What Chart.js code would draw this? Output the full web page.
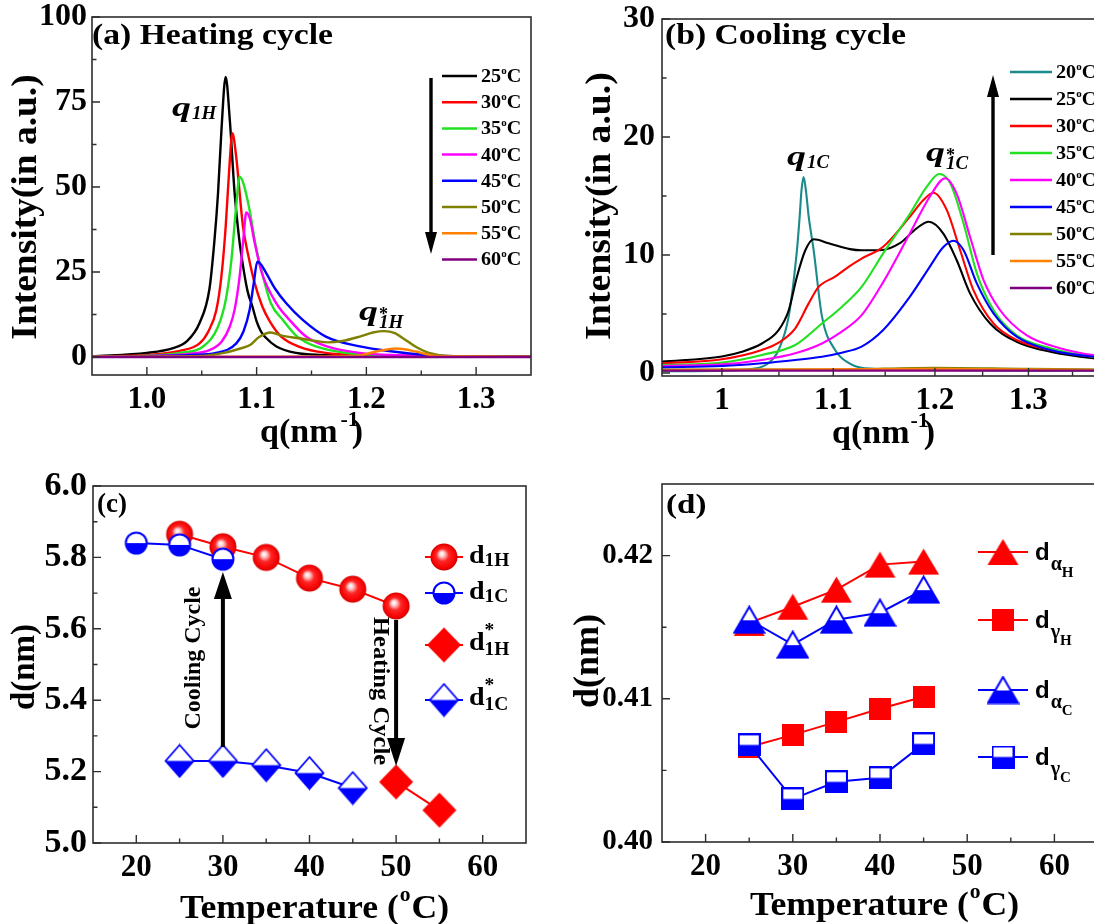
<!DOCTYPE html>
<html><head><meta charset="utf-8">
<script src="https://cdn.jsdelivr.net/npm/chart.js@4.4.1/dist/chart.umd.min.js"></script>
<style>
html,body{margin:0;padding:0;background:#fff;overflow:hidden}
body{width:1094px;height:924px;position:relative}
canvas{position:absolute}
</style></head><body>
<canvas id="ca" width="545" height="460" style="left:0;top:0;width:545px;height:460px"></canvas>
<canvas id="cb" width="570" height="460" style="left:545px;top:0;width:570px;height:460px"></canvas>
<canvas id="cc" width="545" height="464" style="left:0;top:460px;width:545px;height:464px"></canvas>
<canvas id="cd" width="570" height="464" style="left:545px;top:460px;width:570px;height:464px"></canvas>
<script>
// ---------------- DATA ----------------
// (a) Heating cycle: q (nm^-1) and intensity (a.u.) per temperature
const heatTemps = ['25','30','35','40','45','50','55','60'];
const h25Q = [0.95,1.00,1.024,1.036,1.048,1.057,1.0615,1.0648,1.068,1.0718,1.0755,1.080,1.084,1.088,1.092,1.096,1.100,1.104,1.108,1.118,1.136,1.16,1.20,1.25,1.35];
const h25I = [0.2,1.2,2.6,4.5,10,20,34,48,67,82.4,70,48,35,26,19,15,10.5,7.5,5.8,3.1,1.2,0.6,0.3,0.2,0.1];
const h30Q = [0.95,1.00,1.03,1.048,1.056,1.0633,1.068,1.0718,1.075,1.0779,1.081,1.0876,1.093,1.098,1.105,1.112,1.1224,1.139,1.163,1.20,1.25,1.35];
const h30I = [0.15,0.6,1.8,4,7.5,13.8,24,38.3,55,65.8,60,38.3,29,22,15,10.5,6,3,1.2,0.5,0.25,0.1];
const h35Q = [0.95,1.00,1.03,1.051,1.0648,1.072,1.077,1.081,1.0845,1.088,1.0936,1.099,1.104,1.113,1.1239,1.137,1.154,1.181,1.22,1.27,1.35];
const h35I = [0.1,0.4,1.2,3,8.9,17,28.5,43,53,51,43.2,33,26,15.8,10.9,6,3.1,1.2,0.5,0.2,0.1];
const h40Q = [0.95,1.00,1.04,1.057,1.068,1.0755,1.080,1.0845,1.088,1.0906,1.094,1.098,1.1045,1.118,1.130,1.145,1.164,1.194,1.23,1.27,1.35];
const h40I = [0.1,0.3,1.0,2,4.5,8.9,14,23.6,35,42.5,40.5,34,25,15.8,10.9,6,3.1,1.2,0.5,0.2,0.1];
const h45Q = [0.95,1.00,1.04,1.063,1.0815,1.088,1.0936,1.0975,1.1006,1.104,1.109,1.117,1.127,1.142,1.163,1.194,1.224,1.254,1.28,1.35];
const h45I = [0.05,0.2,0.6,1.2,4,7.5,13.8,22,28,27.2,24.5,20,15.8,10.9,6,3.1,1.6,0.6,0.2,0.1];
const h50Q = [0.95,1.00,1.05,1.07,1.085,1.094,1.102,1.1125,1.124,1.139,1.154,1.165,1.178,1.194,1.206,1.2164,1.226,1.233,1.245,1.257,1.275,1.35];
const h50I = [0.05,0.1,0.3,1.2,2.5,3.5,5.8,7.2,6.2,5.5,4.7,4.3,4.7,6,7.2,7.6,7.0,5.6,3,1.2,0.3,0.1];
const h55Q = [0.95,1.10,1.19,1.209,1.227,1.245,1.257,1.27,1.35];
const h55I = [0.1,0.1,0.3,1.6,2.5,1.6,0.6,0.2,0.1];
const h60Q = [0.95,1.10,1.25,1.35];
const h60I = [0,0,0,0];

// (b) Cooling cycle
const coolTemps = ['20','25','30','35','40','45','50','55','60'];
const c20Q = [0.95,1.00,1.03,1.0408,1.0497,1.0588,1.0663,1.0688,1.0705,1.0724,1.0745,1.0771,1.0817,1.0894,1.1017,1.1145,1.13,1.20,1.30,1.394];
const c20I = [0.15,0.2,0.4,0.85,1.95,4.8,10.4,13.25,15.5,16.6,15.5,13.25,10.4,4.8,1.95,0.85,0.4,0.25,0.2,0.2];
const c25Q = [0.95,1.00,1.0173,1.0348,1.0497,1.0588,1.0663,1.074,1.0817,1.0956,1.1158,1.127,1.1449,1.1646,1.1813,1.1937,1.2085,1.2225,1.2366,1.258,1.287,1.3245,1.374,1.394];
const c25I = [0.96,1.4,1.8,2.5,3.64,5.3,8.16,10.4,11.33,11.0,10.5,10.4,10.4,11.0,12.26,12.82,11.84,9.58,6.75,4.2,2.65,1.8,1.25,1.15];
const c30Q = [0.95,1.00,1.0348,1.0497,1.0648,1.0771,1.0863,1.1017,1.1145,1.127,1.148,1.1746,1.1882,1.1984,1.2123,1.2262,1.2403,1.2617,1.287,1.3245,1.374,1.394];
const c30I = [0.82,1.16,1.95,2.57,3.79,5.9,7.3,8.16,9.0,9.7,10.7,13.25,14.66,15.28,13.8,10.4,7.0,4.2,2.8,1.95,1.38,1.25];
const c35Q = [0.95,1.00,1.0348,1.0648,1.0894,1.108,1.127,1.148,1.1746,1.1917,1.2044,1.2157,1.2297,1.2438,1.2617,1.287,1.3245,1.374,1.394];
const c35I = [0.68,0.88,1.53,2.37,4.2,5.6,7.3,10.14,13.5,15.8,16.86,16.1,12.7,8.45,5.34,3.2,2.1,1.38,1.3];
const c40Q = [0.95,1.00,1.0348,1.0648,1.0894,1.108,1.127,1.148,1.1746,1.1947,1.2106,1.2225,1.2366,1.2509,1.2687,1.2978,1.3356,1.374,1.394];
const c40I = [0.59,0.73,1.1,1.67,2.5,3.5,4.9,7.7,11.84,14.94,16.5,15.2,11.55,7.9,5.34,3.2,2.1,1.53,1.45];
const c45Q = [0.95,1.00,1.0348,1.0648,1.0894,1.108,1.127,1.148,1.1746,1.1947,1.2085,1.219,1.2297,1.2438,1.2617,1.287,1.3245,1.374,1.394];
const c45I = [0.48,0.59,0.82,1.1,1.38,1.72,2.23,3.64,6.47,9.0,10.65,11.21,10.42,7.6,5.06,3.08,1.95,1.38,1.3];
const c50Q = [0.95,1.10,1.20,1.30,1.394];
const c50I = [0.3,0.3,0.45,0.35,0.3];
const c55Q = [0.95,1.20,1.394];
const c55I = [0.25,0.35,0.25];
const c60Q = [0.95,1.394];
const c60I = [0.2,0.2];

// (c) d-spacing (nm) vs temperature
const d1H_T = [25,30,35,40,45,50];
const d1H   = [5.865,5.83,5.80,5.742,5.711,5.664];
const d1C_T = [20,25,30];
const d1C   = [5.84,5.835,5.795];
const d1Hs_T = [50,55];
const d1Hs   = [5.171,5.092];
const d1Cs_T = [25,30,35,40,45];
const d1Cs   = [5.23,5.23,5.218,5.196,5.154];

// (d) d-spacing (nm) vs temperature
const tempD   = [25,30,35,40,45];
const dAlphaH = [0.4153,0.41643,0.41762,0.41937,0.41958];
const dGammaH = [0.40664,0.40748,0.40839,0.4093,0.41014];
const dAlphaC = [0.41552,0.41378,0.41552,0.41601,0.41762];
const dGammaC = [0.40678,0.40301,0.4042,0.40448,0.40685];

// tick values
const ticksAx=[1.0,1.1,1.2,1.3], minorAx=[1.05,1.15,1.25];
const ticksAy=[0,25,50,75,100], minorAy=[12.5,37.5,62.5,87.5];
const ticksBx=[1,1.1,1.2,1.3], minorBx=[1.05,1.15,1.25,1.35];
const ticksBy=[0,10,20,30], minorBy=[5,15,25];
const ticksCx=[20,30,40,50,60], minorCx=[25,35,45,55];
const ticksCy=[5.0,5.2,5.4,5.6,5.8,6.0], minorCy=[5.1,5.3,5.5,5.7,5.9];
const ticksDx=[20,30,40,50,60], minorDx=[25,35,45,55,65];
const ticksDy=[0.40,0.41,0.42], minorDy=[0.405,0.415];

// ---------------- STYLE / HELPERS ----------------
const SERIF='"Liberation Serif","Times New Roman",serif';
const SANS='"Liberation Sans",Arial,sans-serif';
const RED='#ff0000', BLUE='#0000ff';
const heatColors=['#000000','#ff0000','#22e022','#ff00ff','#0000ff','#808000','#ff8000','#800080'];
const coolColors=['#1a8a8a','#000000','#ff0000','#22e022','#ff00ff','#0000ff','#808000','#ff8000','#800080'];
const heatQ=[h25Q,h30Q,h35Q,h40Q,h45Q,h50Q,h55Q,h60Q], heatI=[h25I,h30I,h35I,h40I,h45I,h50I,h55I,h60I];
const coolQ=[c20Q,c25Q,c30Q,c35Q,c40Q,c45Q,c50Q,c55Q,c60Q], coolI=[c20I,c25I,c30I,c35I,c40I,c45I,c50I,c55I,c60I];

function fnt(p){return (p.st||'bold')+' '+p.sz+'px '+(p.fam||SERIF);}
function rich(ctx,x,y,parts,o){
  o=o||{};
  ctx.save();ctx.translate(x,y);if(o.rot)ctx.rotate(o.rot);
  const gsx=o.sx||1;let cx=0,prev=0;const pos=[];
  parts.forEach(p=>{ctx.font=fnt(p);const w=ctx.measureText(p.t).width*(p.sx||gsx);const s=p.stack?prev:cx+(p.dx||0);pos.push(s);prev=s;cx=Math.max(cx,s+w);});
  const off=o.align==='center'?-cx/2:(o.align==='right'?-cx:0);
  ctx.fillStyle=o.color||'#000';ctx.textBaseline='alphabetic';ctx.textAlign='left';
  parts.forEach((p,i)=>{ctx.save();ctx.font=fnt(p);ctx.translate(off+pos[i],p.dy||0);ctx.scale(p.sx||gsx,1);ctx.fillText(p.t,0,0);ctx.restore();});
  ctx.restore();
}
function arrow(ctx,x,y0,y1,lw,hw,hl){
  const d=Math.sign(y1-y0);
  ctx.save();ctx.strokeStyle='#000';ctx.fillStyle='#000';ctx.lineWidth=lw;
  ctx.beginPath();ctx.moveTo(x,y0);ctx.lineTo(x,y1-d*hl+d);ctx.stroke();
  ctx.beginPath();ctx.moveTo(x,y1);ctx.lineTo(x-hw/2,y1-d*hl);ctx.lineTo(x+hw/2,y1-d*hl);ctx.closePath();ctx.fill();
  ctx.restore();
}
function hline(ctx,x0,x1,y,c,lw){ctx.save();ctx.strokeStyle=c;ctx.lineWidth=lw;ctx.beginPath();ctx.moveTo(x0,y);ctx.lineTo(x1,y);ctx.stroke();ctx.restore();}
function frameTicks(chart,xM,xm,yM,ym){
  const ctx=chart.ctx,a=chart.chartArea,sx=chart.scales.x,sy=chart.scales.y;
  ctx.save();ctx.strokeStyle='#2e2e2e';ctx.lineWidth=1.6;
  ctx.strokeRect(a.left,a.top,a.right-a.left,a.bottom-a.top);
  ctx.lineWidth=1.4;ctx.beginPath();
  xM.forEach(v=>{const p=sx.getPixelForValue(v);ctx.moveTo(p,a.bottom);ctx.lineTo(p,a.bottom-8);});
  xm.forEach(v=>{const p=sx.getPixelForValue(v);ctx.moveTo(p,a.bottom);ctx.lineTo(p,a.bottom-4.5);});
  yM.forEach(v=>{const p=sy.getPixelForValue(v);ctx.moveTo(a.left,p);ctx.lineTo(a.left+8,p);});
  ym.forEach(v=>{const p=sy.getPixelForValue(v);ctx.moveTo(a.left,p);ctx.lineTo(a.left+4.5,p);});
  ctx.stroke();ctx.restore();
}
function axis(o){
  return {type:o.type||'linear',min:o.min,max:o.max,bounds:'data',
    grid:{display:false,drawTicks:false},border:{display:false},
    ticks:{color:'#000',font:{family:SERIF,size:o.fs||31,weight:'bold'},padding:o.pad,autoSkip:false,maxRotation:0,minRotation:0,callback:o.fmt},
    afterBuildTicks:s=>{s.ticks=o.ticks.map(v=>({value:v}));},
    afterFit:s=>{if(o.w!=null)s.width=o.w;if(o.h!=null)s.height=o.h;s.paddingTop=0;s.paddingBottom=0;s.paddingLeft=0;s.paddingRight=0;}
  };
}
function overlay(id,ox,oy,tk,fn){
  return {id:id,afterDraw(chart){frameTicks(chart,tk[0],tk[1],tk[2],tk[3]);const ctx=chart.ctx;ctx.save();ctx.translate(-ox,-oy);fn(ctx,chart);ctx.restore();}};
}
function pts(xs,ys){return xs.map((x,i)=>({x:x,y:ys[i]}));}
function baseOpts(pad,sx,sy){
  return {responsive:false,animation:false,events:[],layout:{padding:pad},
    plugins:{legend:{display:false},tooltip:{enabled:false}},scales:{x:sx,y:sy}};
}
function tempLabel(t){return [{t:t,sz:18,sx:1.12},{t:'o',sz:11,dy:-8,sx:1.0},{t:'C',sz:18,sx:1.12}];}
function tempTitle(){return [{t:'Temperature (',sz:33},{t:'o',sz:20,dy:-17,dx:1},{t:'C)',sz:33,dx:1}];}
function qLabel(sub,star){
  const q={t:'q',sz:28,st:'bold italic',sx:1.35};
  if(!star) return [q,{t:sub,sz:19,st:'bold italic',dy:3,dx:1}];
  return [q,{t:'*',sz:18,dy:0,dx:1},{t:sub,sz:19,st:'bold italic',dy:8,stack:true}];
}

// markers
function mk(w,h,fn){const c=document.createElement('canvas');c.width=w;c.height=h;fn(c.getContext('2d'),w,h);return c;}
function poly(g,p){g.beginPath();g.moveTo(p[0][0],p[0][1]);for(let i=1;i<p.length;i++)g.lineTo(p[i][0],p[i][1]);g.closePath();}
const mSphere=mk(30,30,g=>{const cx=15,cy=15,r=13.5;const gr=g.createRadialGradient(cx-2.5,cy-3.5,0.5,cx,cy,r);
  gr.addColorStop(0,'#ffffff');gr.addColorStop(0.18,'#ffc4c4');gr.addColorStop(0.45,'#ff2525');gr.addColorStop(0.88,'#f20000');gr.addColorStop(1,'#c80000');
  g.fillStyle=gr;g.beginPath();g.arc(cx,cy,r,0,Math.PI*2);g.fill();});
const mHalfCircle=mk(26,26,g=>{const cx=13,cy=13,r=10.5;g.fillStyle='#fff';g.beginPath();g.arc(cx,cy,r,0,2*Math.PI);g.fill();
  g.save();g.beginPath();g.arc(cx,cy,r,0,2*Math.PI);g.clip();g.fillStyle=BLUE;g.fillRect(0,cy,26,13);g.restore();
  g.strokeStyle=BLUE;g.lineWidth=2;g.beginPath();g.arc(cx,cy,r,0,2*Math.PI);g.stroke();});
const mDiamond=mk(36,37,g=>{g.fillStyle=RED;poly(g,[[18,1],[35,18.5],[18,36],[1,18.5]]);g.fill();});
const mHalfDiamond=mk(31,35,g=>{const P=[[15.5,1.5],[29.5,17.5],[15.5,33.5],[1.5,17.5]];g.fillStyle='#fff';poly(g,P);g.fill();
  g.fillStyle=BLUE;poly(g,[[1.5,17.5],[29.5,17.5],[15.5,33.5]]);g.fill();g.strokeStyle=BLUE;g.lineWidth=1.8;poly(g,P);g.stroke();});
const mTri=mk(33,28,g=>{g.fillStyle=RED;poly(g,[[16.5,1],[32,27],[1,27]]);g.fill();});
const mHalfTri=mk(33,29,g=>{const P=[[16.5,1.5],[31.5,27.5],[1.5,27.5]];g.fillStyle='#fff';poly(g,P);g.fill();
  g.save();poly(g,P);g.clip();g.fillStyle=BLUE;g.fillRect(0,15,33,14);g.restore();g.strokeStyle=BLUE;g.lineWidth=2;poly(g,P);g.stroke();});
const mSquare=mk(22,22,g=>{g.fillStyle=RED;g.fillRect(0,0,22,22);});
const mHalfSquare=mk(23,23,g=>{g.fillStyle='#fff';g.fillRect(1,1,21,21);g.fillStyle=BLUE;g.fillRect(1,11.5,21,10.5);g.strokeStyle=BLUE;g.lineWidth=2;g.strokeRect(1,1,21,21);});
function putImg(ctx,img,x,y){ctx.drawImage(img,x-img.width/2,y-img.height/2);}

// ---------------- CHART A ----------------
new Chart(document.getElementById('ca'),{
  type:'line',
  data:{datasets:heatTemps.map((t,i)=>({label:t+'°C',data:pts(heatQ[i],heatI[i]),borderColor:heatColors[i],borderWidth:2.4,pointRadius:0,cubicInterpolationMode:'monotone',order:-i}))},
  options:baseOpts({top:17,right:14,left:0,bottom:0},
    axis({min:0.95,max:1.35,ticks:ticksAx,pad:6,h:85,fs:31,fmt:v=>v.toFixed(1)}),
    axis({min:-5.3,max:100,ticks:ticksAy,pad:5,w:92,fs:32,fmt:v=>String(v)})),
  plugins:[overlay('ova',0,0,[ticksAx,minorAx,ticksAy,minorAy],(ctx)=>{
    rich(ctx,92,44,[{t:'(a) Heating cycle',sz:29}],{sx:1.16});
    rich(ctx,172,116,qLabel('1H',false));
    rich(ctx,359,320,qLabel('1H',true));
    arrow(ctx,431,78,254,3.4,12,22);
    heatTemps.forEach((t,i)=>{const y=76+i*26.2;hline(ctx,442,477,y,heatColors[i],2.5);rich(ctx,481,y+6,tempLabel(t));});
    rich(ctx,36,207,[{t:'Intensity(in a.u.)',sz:35}],{rot:-Math.PI/2,align:'center',sx:1.07});
    rich(ctx,260,442,[{t:'q(nm',sz:34},{t:'-1',sz:22,dy:-16,dx:3},{t:')',sz:34,dx:-7}]);
  })]
});

// ---------------- CHART B ----------------
new Chart(document.getElementById('cb'),{
  type:'line',
  data:{datasets:coolTemps.map((t,i)=>({label:t+'°C',data:pts(coolQ[i],coolI[i]),borderColor:coolColors[i],borderWidth:2.1,pointRadius:0,cubicInterpolationMode:'monotone',order:-i}))},
  options:baseOpts({top:19,right:5,left:0,bottom:0},
    axis({type:'logarithmic',min:0.95,max:1.394,ticks:ticksBx,pad:6,h:84,fs:31,fmt:v=>(Math.abs(v-1)<1e-9?'1':Number(v).toFixed(1))}),
    axis({min:-0.254,max:30,ticks:ticksBy,pad:7,w:117,fs:32,fmt:v=>String(v)})),
  plugins:[overlay('ovb',545,0,[ticksBx,minorBx,ticksBy,minorBy],(ctx)=>{
    rich(ctx,665,44,[{t:'(b) Cooling cycle',sz:29}],{sx:1.16});
    rich(ctx,787,165,qLabel('1C',false));
    rich(ctx,926,161,qLabel('1C',true));
    arrow(ctx,993,255,75,3.4,12,22);
    coolTemps.forEach((t,i)=>{const y=72+i*27;hline(ctx,1010,1052,y,coolColors[i],2.5);rich(ctx,1056,y+6,tempLabel(t));});
    rich(ctx,610,206,[{t:'Intensity(in a.u.)',sz:35}],{rot:-Math.PI/2,align:'center',sx:1.08});
    rich(ctx,832,443,[{t:'q(nm',sz:34},{t:'-1',sz:22,dy:-16,dx:1},{t:')',sz:34,dx:-5}]);
  })]
});

// ---------------- CHART C ----------------
new Chart(document.getElementById('cc'),{
  type:'line',
  data:{datasets:[
    {label:'d1C*',data:pts(d1Cs_T,d1Cs),borderColor:BLUE,borderWidth:2,pointStyle:mHalfDiamond,pointRadius:15,order:1},
    {label:'d1C',data:pts(d1C_T,d1C),borderColor:BLUE,borderWidth:2,pointStyle:mHalfCircle,pointRadius:12,order:1},
    {label:'d1H*',data:pts(d1Hs_T,d1Hs),borderColor:RED,borderWidth:2,pointStyle:mDiamond,pointRadius:17,order:2},
    {label:'d1H',data:pts(d1H_T,d1H),borderColor:RED,borderWidth:2,pointStyle:mSphere,pointRadius:14,order:2}
  ]},
  options:baseOpts({top:26,right:13,left:0,bottom:0},
    axis({min:15,max:65,ticks:ticksCx,pad:6,h:81,fs:31,fmt:v=>String(v)}),
    axis({min:5.0,max:6.0,ticks:ticksCy,pad:6,w:93,fs:34,fmt:v=>Number(v).toFixed(1)})),
  plugins:[overlay('ovc',0,460,[ticksCx,minorCx,ticksCy,minorCy],(ctx,ch)=>{
    const X=v=>ch.scales.x.getPixelForValue(v);
    rich(ctx,97,512,[{t:'(c)',sz:27}]);
    arrow(ctx,X(30),747,572,4,18,27);
    arrow(ctx,X(50),620,766,4,18,28);
    rich(ctx,200,658,[{t:'Cooling Cycle',sz:23}],{rot:-Math.PI/2,align:'center',sx:1.04});
    rich(ctx,374,691,[{t:'Heating Cycle',sz:23}],{rot:Math.PI/2,align:'center',sx:1.07});
    const rows=[[557,mSphere,RED,'1H',false],[593,mHalfCircle,BLUE,'1C',false],[645,mDiamond,RED,'1H',true],[700,mHalfDiamond,BLUE,'1C',true]];
    rows.forEach(r=>{const y=r[0];hline(ctx,425,463,y,r[2],2);putImg(ctx,r[1],444,y);
      if(!r[4]) rich(ctx,469,y+6,[{t:'d',sz:26},{t:r[3],sz:18,dy:3}],{sx:1.08});
      else rich(ctx,469,y+5,[{t:'d',sz:26},{t:'*',sz:18,dy:-14},{t:r[3],sz:18,dy:5,stack:true}],{sx:1.08});
    });
    rich(ctx,34,667,[{t:'d(nm)',sz:33}],{rot:-Math.PI/2,align:'center'});
    rich(ctx,180,918,tempTitle(),{sx:1.08});
  })]
});

// ---------------- CHART D ----------------
new Chart(document.getElementById('cd'),{
  type:'line',
  data:{datasets:[
    {label:'dαC',data:pts(tempD,dAlphaC),borderColor:BLUE,borderWidth:2,pointStyle:mHalfTri,pointRadius:15,order:1},
    {label:'dγC',data:pts(tempD,dGammaC),borderColor:BLUE,borderWidth:2,pointStyle:mHalfSquare,pointRadius:12,order:1},
    {label:'dαH',data:pts(tempD,dAlphaH),borderColor:RED,borderWidth:2,pointStyle:mTri,pointRadius:15,order:2},
    {label:'dγH',data:pts(tempD,dGammaH),borderColor:RED,borderWidth:2,pointStyle:mSquare,pointRadius:12,order:2}
  ]},
  options:baseOpts({top:24,right:13,left:0,bottom:0},
    axis({min:15,max:65,ticks:ticksDx,pad:6,h:82,fs:31,fmt:v=>String(v)}),
    axis({min:0.40,max:0.425,ticks:ticksDy,pad:9,w:117,fs:29,fmt:v=>Number(v).toFixed(2)})),
  plugins:[overlay('ovd',545,460,[ticksDx,minorDx,ticksDy,minorDy],(ctx)=>{
    rich(ctx,666,513,[{t:'(d)',sz:28}],{sx:1.18});
    const rows=[[552,mTri,RED,'α'],[620,mSquare,RED,'γ'],[690,mHalfTri,BLUE,'α'],[757,mHalfSquare,BLUE,'γ']];
    const sub=['H','H','C','C'];
    rows.forEach((r,i)=>{const y=r[0];hline(ctx,978,1028,y,r[2],2);putImg(ctx,r[1],1003,y);
      rich(ctx,1035,y+8,[{t:'d',sz:24,fam:SANS},{t:r[3],sz:20,dy:10,dx:1},{t:sub[i],sz:15,dy:17}]);
    });
    rich(ctx,598,661,[{t:'d(nm)',sz:36}],{rot:-Math.PI/2,align:'center'});
    rich(ctx,750,915,tempTitle(),{sx:1.08});
  })]
});
</script>
</body></html>
